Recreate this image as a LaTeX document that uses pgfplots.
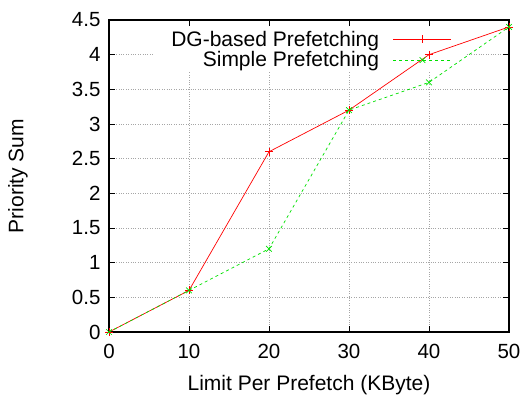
\documentclass[border=0pt]{standalone}
\usepackage{pgfplots}
\pgfplotsset{compat=1.18}
\usepackage{fontspec}
\setmainfont{Liberation Sans}
\definecolor{gpred}{RGB}{255,0,0}
\definecolor{gpgreen}{RGB}{0,225,0}
\begin{document}
\begin{tikzpicture}
\path[use as bounding box] (-109pt,-64pt) rectangle (416pt,332pt);
\begin{axis}[
  at={(0,0)}, anchor=south west,
  scale only axis, width=400pt, height=312pt,
  xmin=0, xmax=50, ymin=0, ymax=4.5,
  xtick={0,10,...,50},
  ytick={0,0.5,...,4.5},
  yticklabels={0,0.5,1,1.5,2,2.5,3,3.5,4,4.5},
  /pgf/number format/assume math mode=true,
  tick label style={font=\fontsize{20.5}{24}\selectfont},
  label style={font=\fontsize{21}{25}\selectfont},
  xlabel={Limit Per Prefetch (KByte)},
  ylabel={Priority Sum},
  x label style={at={(axis description cs:0.5,-0.17)}, anchor=center},
  y label style={at={(axis description cs:-0.2275,0.5)}, anchor=center},
  axis line style={line width=1.3pt},
  tick style={black, line width=0.6pt},
  tick align=inside,
  major tick length=6pt,
  grid=major,
  grid style={gray!70, dotted, line width=0.6pt},
  xticklabel style={yshift=-9pt},
  yticklabel style={xshift=-5pt},
  legend style={
    at={(rel axis cs:0.86,0.975)}, anchor=north east,
    draw=none, fill=none, inner sep=1pt, row sep=0pt, column sep=12pt,
    font=\fontsize{21}{25}\selectfont,
    cells={anchor=east},
  },
  legend plot pos=right,
  legend image code/.code={%
    \draw[mark repeat=2,mark phase=2,#1] plot coordinates {(0pt,0pt)(29pt,0pt)(58pt,0pt)};},
]
\addplot[draw=none, fill=white, forget plot] coordinates {(5.5,3.75) (44.6,3.75) (44.6,4.41) (5.5,4.41)} -- cycle;
\addplot[color=gpred, line width=0.7pt, mark=+, mark size=4pt, mark options={solid}] coordinates {
(0,0) (10,0.6) (20,2.6) (30,3.2) (40,4.0) (50,4.4)};
\addlegendentry{DG-based Prefetching}
\addplot[color=gpgreen, line width=0.7pt, dashed, mark=x, mark size=4pt, mark options={solid}] coordinates {
(0,0) (10,0.6) (20,1.2) (30,3.2) (40,3.6) (50,4.4)};
\addlegendentry{Simple Prefetching}
\end{axis}
\end{tikzpicture}
\end{document}
